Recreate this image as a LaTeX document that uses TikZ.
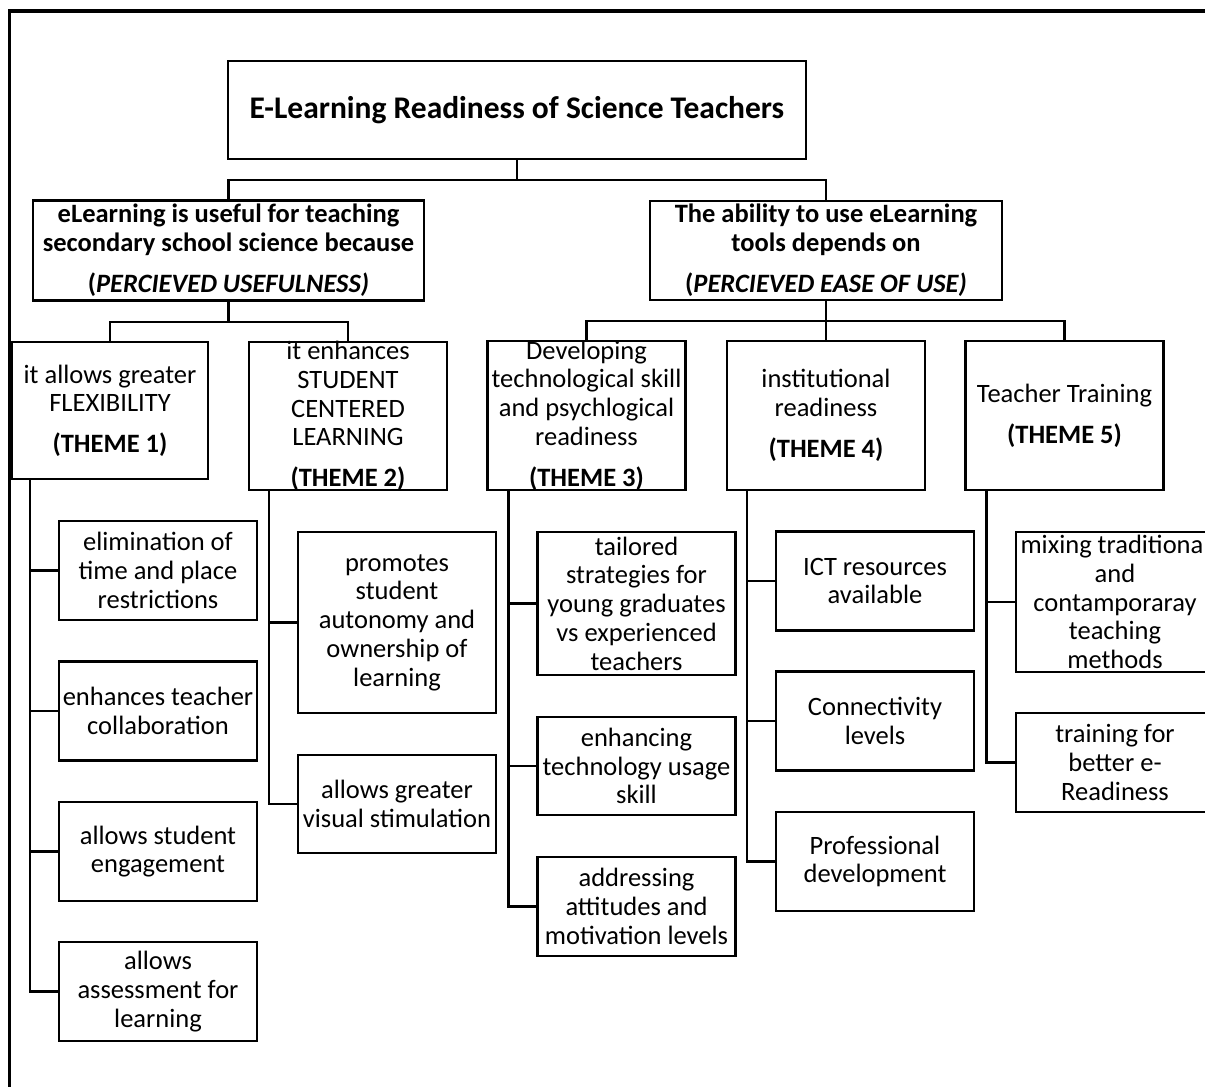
\documentclass[tikz,border=0pt]{standalone}
\usepackage{fontspec}
\setmainfont{Carlito}
\newcommand\bodyfont{\fontsize{26.5}{28.7}\selectfont}
\newcommand\titlefont{\fontsize{31.5}{36}\selectfont\bfseries}
\newcommand\boxtxt[2][194pt]{\vbox to 0pt{\vss\hsize=#1\parindent=0pt\centering #2\par\vss}}

\begin{document}
\begin{tikzpicture}[x=1pt,y=-1pt,box/.style={draw,line width=2.2pt,inner sep=0pt,minimum width=198pt,minimum height=#1,font=\bodyfont},box/.default=99pt,link/.style={line width=2.2pt},frame/.style={line width=3.5pt}]
\useasboundingbox (0,0) rectangle (1205,1087);
\clip (0,0) rectangle (1205,1087);
\draw[frame] (9.5,11) rectangle (1240,1120);
% title and the two branches
\node[box=98pt,minimum width=578pt,font=\titlefont] (title) at (517,110) {E-Learning Readiness of Science Teachers};
\node[box=100pt,minimum width=391pt,font=\bodyfont\bfseries] (pu) at (228.5,250.5) {\boxtxt[385pt]{eLearning is useful for teaching\\secondary school science because\\[13pt](\textit{PERCIEVED USEFULNESS)}}};
\node[box=99pt,minimum width=352pt,font=\bodyfont\bfseries] (peou) at (826,250.5) {\boxtxt[346pt]{The ability to use eLearning\\tools depends on\\[13pt](\textit{PERCIEVED EASE OF USE)}}};
% themes
\node[box=137pt,minimum width=196pt] (th1) at (110,410.5) {\boxtxt{it allows greater\\FLEXIBILITY\\[12pt]\textbf{(THEME 1)}}};
\node[box=148pt] (th2) at (348,416) {\boxtxt{it enhances\\STUDENT\\CENTERED\\LEARNING\\[12pt]\textbf{(THEME 2)}}};
\node[box=149pt] (th3) at (586.5,415.5) {\boxtxt{Developing\\technological skill\\and psychlogical\\readiness\\[12pt]\textbf{(THEME 3)}}};
\node[box=149pt] (th4) at (826,415.5) {\boxtxt{institutional\\readiness\\[12pt]\textbf{(THEME 4)}}};
\node[box=149pt] (th5) at (1064.5,415.5) {\boxtxt{Teacher Training\\[12pt]\textbf{(THEME 5)}}};
% sub-themes
\foreach \n/\y/\t in {1/570.5/{elimination of\\time and place\\restrictions},2/711/{enhances teacher\\collaboration},3/851.5/{allows student\\engagement},4/991.5/{allows\\assessment for\\learning}}{\node[box] (flex\n) at (158,\y) {\boxtxt{\t}};}
\foreach \n/\y/\h/\t in {1/622.5/181pt/{promotes\\student\\autonomy and\\ownership of\\learning},2/804/98pt/{allows greater\\visual stimulation}}{\node[box=\h] (scl\n) at (397,\y) {\boxtxt{\t}};}
\foreach \n/\y/\h/\t in {1/603.5/143pt/{tailored\\strategies for\\young graduates\\vs experienced\\teachers},2/766/98pt/{enhancing\\technology usage\\skill},3/906.5/99pt/{addressing\\attitudes and\\motivation levels}}{\node[box=\h] (tech\n) at (636.5,\y) {\boxtxt{\t}};}
\foreach \n/\y/\t in {1/581/{ICT resources\\available},2/721/{Connectivity\\levels},3/861.5/{Professional\\development}}{\node[box] (inst\n) at (875,\y) {\boxtxt{\t}};}
\foreach \n/\y/\h/\t in {1/602/140pt/{mixing traditional\\and\\contamporaray\\teaching\\methods},2/762.5/99pt/{training for\\better e-\\Readiness}}{\node[box=\h] (train\n) at (1115,\y) {\boxtxt{\t}};}
% links
\foreach \b in {pu,peou}{\draw[link] (title.south) -- ++(0,20) -| (\b.north);}
\foreach \t in {th1,th2}{\draw[link] (pu.south) -- ++(0,20) -| (\t.north);}
\foreach \t in {th3,th4,th5}{\draw[link] (peou.south) -- ++(0,20) -| (\t.north);}
\foreach \s in {flex1,flex2,flex3,flex4}{\draw[link] ([xshift=19pt]th1.south west) |- (\s.west);}
\foreach \s in {scl1,scl2}{\draw[link] ([xshift=21pt]th2.south west) |- (\s.west);}
\foreach \s in {tech1,tech2,tech3}{\draw[link] ([xshift=22pt]th3.south west) |- (\s.west);}
\foreach \s in {inst1,inst2,inst3}{\draw[link] ([xshift=21pt]th4.south west) |- (\s.west);}
\foreach \s in {train1,train2}{\draw[link] ([xshift=22pt]th5.south west) |- (\s.west);}
\end{tikzpicture}
\end{document}
